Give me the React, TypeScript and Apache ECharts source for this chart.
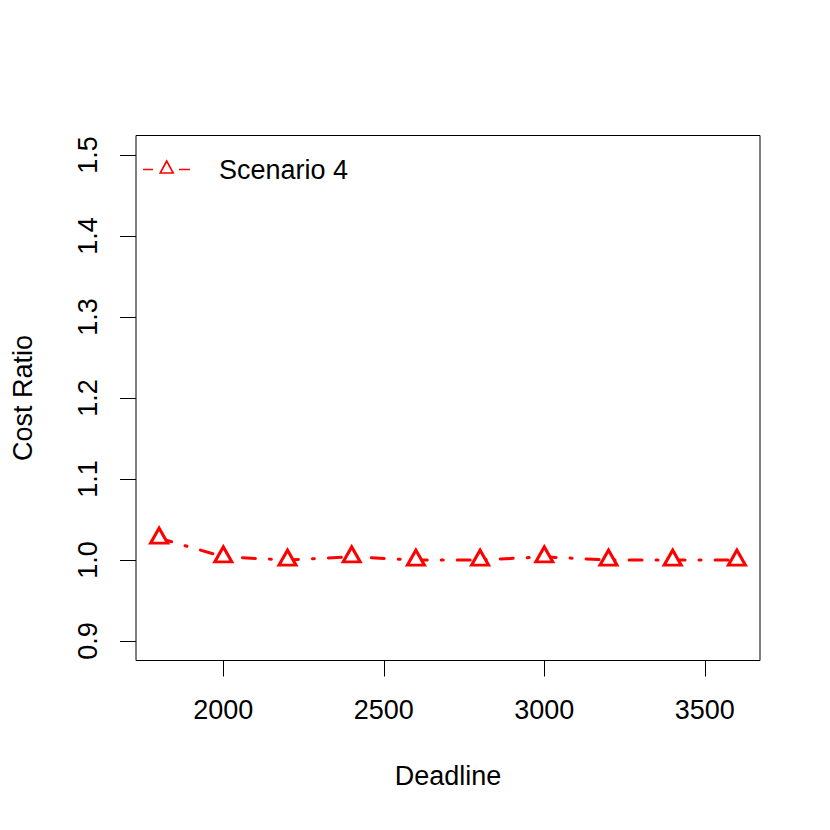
import React, { useEffect, useRef } from "react";
import * as echarts from "echarts";

const deadlines = [1800, 2000, 2200, 2400, 2600, 2800, 3000, 3200, 3400, 3600];
const costRatio = [1.027, 1.004, 1.0, 1.004, 1.0, 1.0, 1.004, 1.0, 1.0, 1.0];
const xTicks = [2000, 2500, 3000, 3500];
const yTicks = [0.9, 1.0, 1.1, 1.2, 1.3, 1.4, 1.5];
const seriesName = "Scenario 4";

const FONT = "'Liberation Sans', Arial, Helvetica, sans-serif";
const RED = "#ff0000";

export default function App() {
  const ref = useRef<HTMLDivElement>(null);
  useEffect(() => {
    if (!ref.current) return;
    const chart = echarts.init(ref.current, undefined, { renderer: "svg" });
    chart.setOption({
      animation: false,
      backgroundColor: "#ffffff",
      textStyle: { fontFamily: FONT },
      grid: {
        left: 136,
        top: 135.5,
        width: 624,
        height: 525,
        show: true,
        borderColor: "#000",
        borderWidth: 1,
        backgroundColor: "transparent",
      },
      xAxis: {
        type: "value",
        min: 1728,
        max: 3672,
        name: "Deadline",
        nameLocation: "middle",
        nameGap: 102,
        nameTextStyle: { fontSize: 27, color: "#000", fontFamily: FONT },
        axisLine: { show: false },
        splitLine: { show: false },
        axisTick: {
          show: true,
          length: 16,
          lineStyle: { color: "#000", width: 1 },
          customValues: xTicks,
        },
        axisLabel: {
          fontSize: 27,
          color: "#000",
          margin: 36,
          fontFamily: FONT,
          customValues: xTicks,
          formatter: (v: number) => String(v),
        },
      },
      yAxis: {
        type: "value",
        min: 0.876,
        max: 1.524,
        name: "Cost Ratio",
        nameLocation: "middle",
        nameGap: 100,
        nameTextStyle: { fontSize: 27, color: "#000", fontFamily: FONT },
        axisLine: { show: false },
        splitLine: { show: false },
        axisTick: {
          show: true,
          length: 16,
          lineStyle: { color: "#000", width: 1 },
          customValues: yTicks,
        },
        axisLabel: {
          fontSize: 27,
          color: "#000",
          margin: 35,
          rotate: 90,
          fontFamily: FONT,
          customValues: yTicks,
          formatter: (v: number) => v.toFixed(1),
        },
      },
      series: [
        {
          name: seriesName,
          type: "line",
          data: deadlines.map((d, i) => [d, costRatio[i]]),
          lineStyle: { color: RED, width: 3, type: [13, 14, 2, 14], cap: "round" },
          symbol: "triangle",
          symbolSize: [17, 15],
          symbolOffset: [0, -2.5],
          showAllSymbol: true,
          itemStyle: { color: "#ffffff", borderColor: RED, borderWidth: 3 },
          z: 3,
        },
      ],
      graphic: [
        {
          type: "line",
          shape: { x1: 143, y1: 169.5, x2: 153, y2: 169.5 },
          style: { stroke: RED, lineWidth: 1.5 },
        },
        {
          type: "line",
          shape: { x1: 179, y1: 169.5, x2: 190, y2: 169.5 },
          style: { stroke: RED, lineWidth: 1.5 },
        },
        {
          type: "polygon",
          shape: { points: [[166.7, 161], [160.2, 173], [173.2, 173]] },
          style: { stroke: RED, lineWidth: 1.6, fill: "none" },
        },
        {
          type: "text",
          x: 219,
          y: 170,
          style: {
            text: seriesName,
            fontSize: 27,
            fontFamily: FONT,
            fill: "#000",
            textAlign: "left",
            textVerticalAlign: "middle",
          },
        },
      ],
    });
    return () => chart.dispose();
  }, []);
  return <div ref={ref} style={{ width: 830, height: 830, margin: -8 }} />;
}
